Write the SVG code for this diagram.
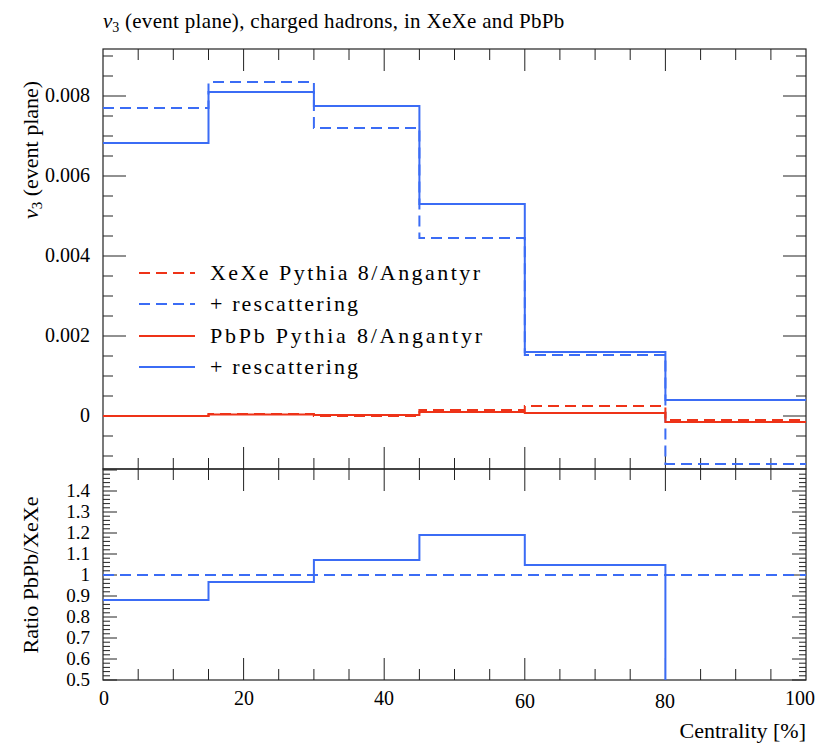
<svg xmlns="http://www.w3.org/2000/svg" width="830" height="750" viewBox="0 0 830 750">
<style>
text{font-family:"Liberation Serif","DejaVu Serif",serif;fill:#000}
.ax{fill:none;stroke:#222;stroke-width:1.2}
.tk{stroke:#222;stroke-width:1}
.b{fill:none;stroke:#3b6cf5;stroke-width:2}
.r{fill:none;stroke:#ee3318;stroke-width:2}
.d{stroke-dasharray:11,6}
</style>
<rect width="830" height="750" fill="#fff"/>
<text x="103" y="28" font-size="21" font-style="italic">v<tspan font-size="14" dy="4" font-style="normal">3</tspan><tspan dy="-4" font-style="normal" textLength="445" lengthAdjust="spacing"> (event plane), charged hadrons, in XeXe and PbPb</tspan></text>
<g id="axes">
<rect class="ax" x="103" y="49" width="703" height="420"/>
<rect class="ax" x="103" y="469" width="703" height="211"/>
<path class="tk" d="M103 416h23M103 336h23M103 256h23M103 176h23M103 96h23M806 416h-23M806 336h-23M806 256h-23M806 176h-23M806 96h-23
M103 456h10M103 436h10M103 396h10M103 376h10M103 356h10M103 316h10M103 296h10M103 276h10M103 236h10M103 216h10M103 196h10M103 156h10M103 136h10M103 116h10M103 76h10M103 56h10
M806 456h-10M806 436h-10M806 396h-10M806 376h-10M806 356h-10M806 316h-10M806 296h-10M806 276h-10M806 236h-10M806 216h-10M806 196h-10M806 156h-10M806 136h-10M806 116h-10M806 76h-10M806 56h-10"/>
<path class="tk" d="M243.6 49v22M384.2 49v22M524.8 49v22M665.4 49v22M243.6 469v-22M384.2 469v-22M524.8 469v-22M665.4 469v-22
M138.2 49v11M173.3 49v11M208.5 49v11M278.7 49v11M313.9 49v11M349 49v11M419.4 49v11M454.5 49v11M489.7 49v11M559.9 49v11M595.1 49v11M630.2 49v11M700.6 49v11M735.7 49v11M770.9 49v11
M138.2 469v-11M173.3 469v-11M208.5 469v-11M278.7 469v-11M313.9 469v-11M349 469v-11M419.4 469v-11M454.5 469v-11M489.7 469v-11M559.9 469v-11M595.1 469v-11M630.2 469v-11M700.6 469v-11M735.7 469v-11M770.9 469v-11"/>
<path class="tk" d="M243.6 469v22M384.2 469v22M524.8 469v22M665.4 469v22M243.6 680v-22M384.2 680v-22M524.8 680v-22M665.4 680v-22
M138.2 469v11M173.3 469v11M208.5 469v11M278.7 469v11M313.9 469v11M349 469v11M419.4 469v11M454.5 469v11M489.7 469v11M559.9 469v11M595.1 469v11M630.2 469v11M700.6 469v11M735.7 469v11M770.9 469v11
M138.2 680v-11M173.3 680v-11M208.5 680v-11M278.7 680v-11M313.9 680v-11M349 680v-11M419.4 680v-11M454.5 680v-11M489.7 680v-11M559.9 680v-11M595.1 680v-11M630.2 680v-11M700.6 680v-11M735.7 680v-11M770.9 680v-11"/>
<path class="tk" d="M103 680h14M103 659h14M103 638h14M103 617h14M103 596h14M103 575h14M103 554h14M103 533h14M103 512h14M103 491h14M103 470h14
M806 680h-14M806 659h-14M806 638h-14M806 617h-14M806 596h-14M806 575h-14M806 554h-14M806 533h-14M806 512h-14M806 491h-14"/>
<path class="tk" d="M103 675.8h7M103 671.6h7M103 667.4h7M103 663.2h7M103 654.8h7M103 650.6h7M103 646.4h7M103 642.2h7M103 633.8h7M103 629.6h7M103 625.4h7M103 621.2h7M103 612.8h7M103 608.6h7M103 604.4h7M103 600.2h7M103 591.8h7M103 587.6h7M103 583.4h7M103 579.2h7M103 570.8h7M103 566.6h7M103 562.4h7M103 558.2h7M103 549.8h7M103 545.6h7M103 541.4h7M103 537.2h7M103 528.8h7M103 524.6h7M103 520.4h7M103 516.2h7M103 507.8h7M103 503.6h7M103 499.4h7M103 495.2h7M103 486.8h7M103 482.6h7M103 478.4h7M103 474.2h7
M806 675.8h-7M806 671.6h-7M806 667.4h-7M806 663.2h-7M806 654.8h-7M806 650.6h-7M806 646.4h-7M806 642.2h-7M806 633.8h-7M806 629.6h-7M806 625.4h-7M806 621.2h-7M806 612.8h-7M806 608.6h-7M806 604.4h-7M806 600.2h-7M806 591.8h-7M806 587.6h-7M806 583.4h-7M806 579.2h-7M806 570.8h-7M806 566.6h-7M806 562.4h-7M806 558.2h-7M806 549.8h-7M806 545.6h-7M806 541.4h-7M806 537.2h-7M806 528.8h-7M806 524.6h-7M806 520.4h-7M806 516.2h-7M806 507.8h-7M806 503.6h-7M806 499.4h-7M806 495.2h-7M806 486.8h-7M806 482.6h-7M806 478.4h-7M806 474.2h-7"/>
</g>
<g id="labels">
<g text-anchor="end" font-size="20">
<text x="90" y="422">0</text><text x="90" y="342">0.002</text><text x="90" y="262">0.004</text><text x="90" y="182">0.006</text><text x="90" y="102">0.008</text>
</g>
<g text-anchor="end" font-size="19">
<text x="90" y="686">0.5</text><text x="90" y="665">0.6</text><text x="90" y="644">0.7</text><text x="90" y="623">0.8</text><text x="90" y="602">0.9</text><text x="90" y="581">1</text><text x="90" y="560">1.1</text><text x="90" y="539">1.2</text><text x="90" y="518">1.3</text><text x="90" y="497">1.4</text>
</g>
<g text-anchor="middle" font-size="20">
<text x="104" y="705">0</text><text x="244" y="705">20</text><text x="384" y="705">40</text><text x="525" y="708">60</text><text x="665" y="708">80</text><text x="800" y="705">100</text>
</g>
<text x="806" y="738" text-anchor="end" font-size="22">Centrality [%]</text>
<text transform="translate(38,150) rotate(-90)" text-anchor="middle" font-size="22"><tspan font-style="italic">v</tspan><tspan font-size="15" dy="4">3</tspan><tspan dy="-4"> (event plane)</tspan></text>
<text transform="translate(38,575) rotate(-90)" text-anchor="middle" font-size="22">Ratio PbPb/XeXe</text>
</g>
<g id="curves">
<path class="b d" d="M103 108H208.5V82H313.9V128H419.4V238H524.8V355H665.4V464H806"/>
<path class="b" d="M103 143H208.5V92H313.9V106H419.4V204H524.8V352H665.4V400H806"/>
<path class="r d" d="M103 416H208.5V414H313.9V416H419.4V410H524.8V406H665.4V420H806"/>
<path class="r" d="M103 416H208.5V414.5H313.9V415H419.4V412H524.8V413H665.4V422H806"/>
<path class="b d" d="M103 575H806"/>
<path class="b" d="M103 600H208.5V582H313.9V560H419.4V535H524.8V565H665.4V680"/>
</g>
<g id="legend" font-size="22">
<path class="r d" d="M139 273H195"/><text x="210" y="280" textLength="270" lengthAdjust="spacing">XeXe Pythia 8/Angantyr</text>
<path class="b d" d="M139 304H195"/><text x="210" y="311" textLength="148" lengthAdjust="spacing">+ rescattering</text>
<path class="r" d="M139 336H195"/><text x="210" y="343" textLength="272" lengthAdjust="spacing">PbPb Pythia 8/Angantyr</text>
<path class="b" d="M139 367H195"/><text x="210" y="374" textLength="148" lengthAdjust="spacing">+ rescattering</text>
</g>
</svg>
